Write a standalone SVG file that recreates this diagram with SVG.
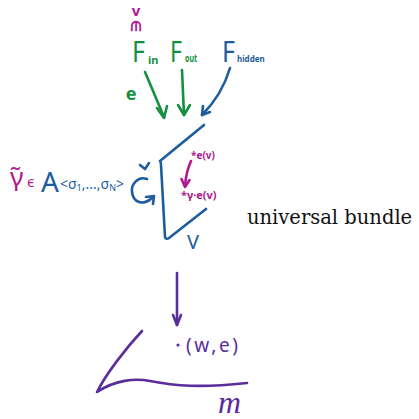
<svg xmlns="http://www.w3.org/2000/svg" width="419" height="419" viewBox="0 0 419 419">
<style>
.hw{font-family:"Noto Sans","DejaVu Sans",sans-serif}
.g{fill:#15903f}
.b{fill:#1d5c9e}
.m{fill:#b0198e}
.p{fill:#5a2d9c}
.sg{stroke:#15903f}
.sb{stroke:#1d5c9e}
.sm{stroke:#b0198e}
.sp{stroke:#5a2d9c}
.ln{fill:none;stroke-width:2.6;stroke-linecap:round;stroke-linejoin:round}
</style>
<rect width="419" height="419" fill="#ffffff"/>
<g id="v-in">
<text class="hw m" x="136" y="16" font-size="15" font-weight="bold" text-anchor="middle">v</text>
<text class="hw m" x="0" y="0" font-size="14" font-weight="bold" text-anchor="middle" dominant-baseline="central" transform="translate(136,26) rotate(90)">∈</text>
</g>
<g id="F_in">
<text class="hw g" x="132" y="62" font-size="29" textLength="13" lengthAdjust="spacingAndGlyphs">F</text>
<text class="hw g" x="148" y="64" font-size="11" font-weight="bold">in</text>
</g>
<g id="F_out">
<text class="hw g" x="170" y="62" font-size="29" textLength="12" lengthAdjust="spacingAndGlyphs">F</text>
<text class="hw g" x="185" y="62" font-size="10" font-weight="bold" textLength="12" lengthAdjust="spacingAndGlyphs">out</text>
</g>
<g id="F_hidden">
<text class="hw b" x="222" y="62" font-size="29" textLength="13" lengthAdjust="spacingAndGlyphs">F</text>
<text class="hw b" x="237" y="62" font-size="8" font-weight="bold">hidden</text>
</g>
<g id="e-label">
<text class="hw g" x="131" y="100" font-size="18" font-weight="bold" text-anchor="middle">e</text>
</g>
<g id="connectors">
<line class="ln sg" x1="145" y1="72" x2="164" y2="117"/>
<polyline class="ln sg" points="157,108 164,118 167,106"/>
<line class="ln sg" x1="182" y1="70" x2="184" y2="115"/>
<polyline class="ln sg" points="178,105 184,115 190,105"/>
<path class="ln sb" d="M230,68 Q222,95 202,115"/>
<polyline class="ln sb" points="203,106 202,115 210,112"/>
<path class="ln sm" d="M191,161 Q186,172 185,186" stroke-width="2"/>
<polyline class="ln sm" points="181.5,179 185,187 189.5,180" stroke-width="2"/>
<line class="ln sp" x1="177" y1="273" x2="177" y2="325"/>
<polyline class="ln sp" points="173,315 177,325 181,315"/>
</g>
<g id="group-action">
<text class="hw m" x="10" y="186" font-size="26">γ̃</text>
<text class="hw m" x="27" y="187" font-size="15">ϵ</text>
<text class="hw b" x="41" y="192" font-size="28">A<tspan x="60" y="189" font-size="14">&lt;σ</tspan><tspan font-size="9" dy="2">1</tspan><tspan font-size="14" dy="-2">,...,σ</tspan><tspan font-size="9" dy="2">N</tspan><tspan font-size="14" dy="-2">&gt;</tspan></text>
<path class="ln sb" d="M147,179 C138,176 131,184 132,192 C133,202 143,207 153,197"/>
<polyline class="ln sb" points="146,197 154,196 153,204"/>
<path class="ln sb" d="M140,165 L145,169 L149,163" stroke-width="2"/>
</g>
<g id="bundle">
<path class="ln sb" d="M204,125 L160,161 Q161,162 161,165 L165,237 Q166,240 169,238 L206,209"/>
<text class="hw b" x="187" y="249" font-size="20">V</text>
<text class="hw m" x="191" y="159" font-size="10" font-weight="bold">*e(v)</text>
<text class="hw m" x="181" y="199" font-size="11" font-weight="bold">*γ·e(v)</text>
</g>
<g id="universal-bundle-label">
<text x="247" y="224" font-family="DejaVu Serif, serif" font-size="19.5" fill="#111">universal bundle</text>
</g>
<g id="base-M">
<path class="ln sp" d="M142,331 C126,348 106,374 97,392 C115,380 135,378 150,381 C175,386 200,388 247,383"/>
<circle cx="178" cy="345" r="1.6" fill="#5a2d9c"/>
<text class="hw p" x="186" y="352" font-size="19" textLength="52" lengthAdjust="spacing">(w,e)</text>
<text class="p" x="218" y="413" font-family="Liberation Serif, serif" font-style="italic" font-size="32" textLength="23" lengthAdjust="spacingAndGlyphs">m</text>
</g>
</svg>
